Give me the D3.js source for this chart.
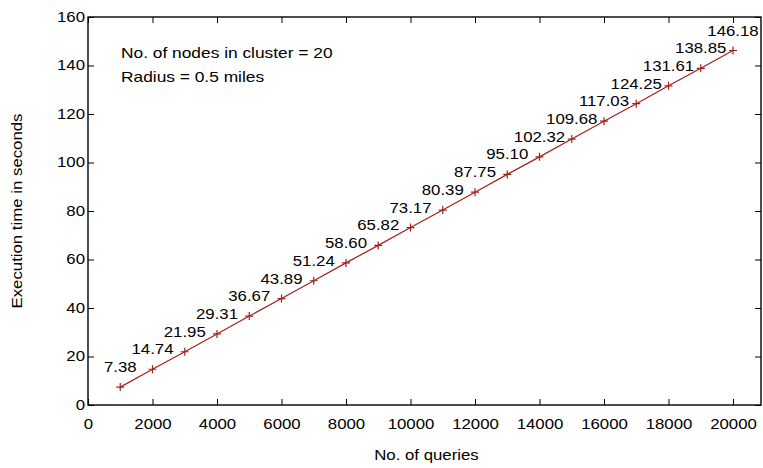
<!DOCTYPE html>
<html>
<head>
<meta charset="utf-8">
<script src="https://cdn.jsdelivr.net/npm/d3@7"></script>
<style>
  body { margin: 0; background: #fff; }
  text { font-family: "Liberation Sans", Arial, Helvetica, sans-serif; fill: #000; }
</style>
</head>
<body>
<div id="chart"></div>
<script>
// data
const queries = [1000, 2000, 3000, 4000, 5000, 6000, 7000, 8000, 9000, 10000,
                 11000, 12000, 13000, 14000, 15000, 16000, 17000, 18000, 19000, 20000];
const seconds = [7.38, 14.74, 21.95, 29.31, 36.67, 43.89, 51.24, 58.60, 65.82, 73.17,
                 80.39, 87.75, 95.10, 102.32, 109.68, 117.03, 124.25, 131.61, 138.85, 146.18];
const xTicks = [0, 2000, 4000, 6000, 8000, 10000, 12000, 14000, 16000, 18000, 20000];
const yTicks = [0, 20, 40, 60, 80, 100, 120, 140, 160];
const notes = ["No. of nodes in cluster = 20", "Radius = 0.5 miles"];

const W = 763, H = 468;
const plotL = 88, plotR = 761, plotT = 17, plotB = 405;
const lineColor = "#a3201c";
const stretch = 1.2; // the source text is a bit wide

const svg = d3.select("#chart").append("svg")
    .attr("width", W)
    .attr("height", H);

// scales
const x = d3.scaleLinear().domain([0, 20000]).range([plotL, 733]);
x.domain([0, x.invert(plotR)]).range([plotL, plotR]);
const y = d3.scaleLinear().domain([0, 160]).range([plotB, plotT]);

// frame with inward ticks on all sides
svg.append("rect")
    .attr("x", plotL).attr("y", plotT)
    .attr("width", plotR - plotL).attr("height", plotB - plotT)
    .attr("fill", "none").attr("stroke", "#000").attr("stroke-width", 1.4);

const tickLen = 6;
function styleAxis(g) {
    g.select(".domain").remove();
    g.selectAll(".tick line").attr("stroke", "#000").attr("stroke-width", 1);
}

const xAxis = svg.append("g")
    .attr("transform", `translate(0,${plotB})`)
    .call(d3.axisBottom(x).tickValues(xTicks).tickSize(-tickLen).tickPadding(14).tickFormat(d3.format("d")))
    .call(styleAxis);
xAxis.selectAll("text")
    .attr("font-size", 14)
    .attr("transform", `scale(${stretch},1)`);

svg.append("g")
    .attr("transform", `translate(0,${plotT})`)
    .call(d3.axisTop(x).tickValues(xTicks).tickSize(-tickLen).tickFormat(""))
    .call(styleAxis);

const yAxis = svg.append("g")
    .attr("transform", `translate(${plotL},0)`)
    .call(d3.axisLeft(y).tickValues(yTicks).tickSize(-tickLen).tickPadding(2.5))
    .call(styleAxis);
yAxis.selectAll("text")
    .attr("font-size", 14)
    .attr("transform", `scale(${stretch},1)`);

svg.append("g")
    .attr("transform", `translate(${plotR},0)`)
    .call(d3.axisRight(y).tickValues(yTicks).tickSize(-tickLen).tickFormat(""))
    .call(styleAxis);

// axis titles
svg.append("text")
    .attr("transform", `translate(${(plotL + 733) / 2 + 16},460) scale(${stretch},1)`)
    .attr("text-anchor", "middle")
    .attr("font-size", 14)
    .text("No. of queries");

svg.append("text")
    .attr("transform", `translate(22,${(plotT + plotB) / 2}) rotate(-90) scale(${stretch},1)`)
    .attr("text-anchor", "middle")
    .attr("font-size", 14)
    .text("Execution time in seconds");

// annotation
svg.selectAll(".note")
    .data(notes)
    .enter()
    .append("text")
    .attr("class", "note")
    .attr("transform", (d, i) => `translate(121,${58 + i * 24}) scale(1.24,1)`)
    .attr("font-size", 14)
    .text(d => d);

// series line
const pts = queries.map((q, i) => [q, seconds[i]]);
svg.append("path")
    .datum(pts)
    .attr("fill", "none")
    .attr("stroke", lineColor)
    .attr("stroke-width", 1.2)
    .attr("d", d3.line().x(d => x(d[0])).y(d => y(d[1])));

// plus markers
const m = 4;
svg.selectAll(".mark")
    .data(pts)
    .enter()
    .append("path")
    .attr("class", "mark")
    .attr("stroke", lineColor)
    .attr("stroke-width", 1.2)
    .attr("d", d => {
        const cx = x(d[0]), cy = y(d[1]);
        return `M${cx - m},${cy}H${cx + m}M${cx},${cy - m}V${cy + m}`;
    });

// value labels
svg.selectAll(".val")
    .data(pts)
    .enter()
    .append("text")
    .attr("class", "val")
    .attr("transform", d => `translate(${x(d[0])},${y(d[1]) - 15}) scale(${stretch},1)`)
    .attr("text-anchor", "middle")
    .attr("font-size", 14)
    .text(d => d[1].toFixed(2));
</script>
</body>
</html>
